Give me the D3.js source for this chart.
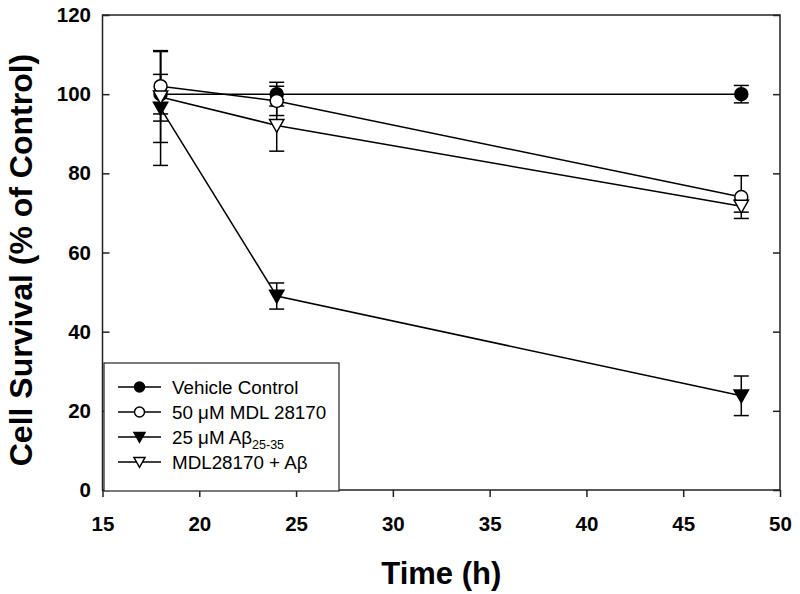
<!DOCTYPE html>
<html>
<head>
<meta charset="utf-8">
<script src="https://cdn.jsdelivr.net/npm/d3@7"></script>
<style>
    body { margin: 0; background: #fff; }
    svg { font-family: "Liberation Sans", Arial, sans-serif; }
</style>
</head>
<body>
<svg id="chart" width="800" height="594"></svg>
<script>
const times = [18, 24, 48];

const vehicleMean = [100, 100, 100];
const vehicleErr = [5, 3, 2.2];
const mdlMean = [102, 98.3, 74];
const mdlErr = [8.8, 3.7, 5.4];
const abMean = [96.5, 49, 23.8];
const abErr = [14.5, 3.3, 5];
const mixMean = [99.3, 92.1, 71.7];
const mixErr = [11.5, 6.5, 1.5];

const xTicks = [15, 20, 25, 30, 35, 40, 45, 50];
const yTicks = [0, 20, 40, 60, 80, 100, 120];

const seriesNames = ["Vehicle Control", "50 \u03bcM MDL 28170", "25 \u03bcM A\u03b2", "MDL28170 + A\u03b2"];

const series = [
    { name: seriesNames[0], mean: vehicleMean, err: vehicleErr, shape: "circle", fill: "#000" },
    { name: seriesNames[1], mean: mdlMean, err: mdlErr, shape: "circle", fill: "#fff" },
    { name: seriesNames[2], mean: abMean, err: abErr, shape: "tri", fill: "#000", sub: "25-35" },
    { name: seriesNames[3], mean: mixMean, err: mixErr, shape: "tri", fill: "#fff" }
];

const svg = d3.select("#chart");
const pLeft = 102.5, pRight = 780, pTop = 15, pBottom = 490;

const x = d3.scaleLinear().domain([15, 50]).range([pLeft, pRight]);
const y = d3.scaleLinear().domain([0, 120]).range([pBottom, pTop]);

// frame
svg.append("rect")
    .attr("x", pLeft).attr("y", pTop)
    .attr("width", pRight - pLeft).attr("height", pBottom - pTop)
    .attr("fill", "none").attr("stroke", "#222").attr("stroke-width", 1.5);

const xAxis = svg.append("g")
    .attr("transform", "translate(0," + pBottom + ")")
    .call(d3.axisBottom(x).tickValues(xTicks).tickSize(7).tickSizeOuter(0).tickPadding(19));
const yAxis = svg.append("g")
    .attr("transform", "translate(" + pLeft + ",0)")
    .call(d3.axisLeft(y).tickValues(yTicks).tickSize(-7).tickSizeOuter(0).tickPadding(11.5));
const yAxisR = svg.append("g")
    .attr("transform", "translate(" + pRight + ",0)")
    .call(d3.axisRight(y).tickValues(yTicks).tickSize(-7).tickSizeOuter(0).tickFormat(""));

[xAxis, yAxis, yAxisR].forEach(function(g) {
    g.attr("font-size", null).attr("font-family", null);
    g.select(".domain").remove();
    g.selectAll("line").attr("stroke", "#222").attr("stroke-width", 1.5);
    g.selectAll("text")
        .attr("fill", "#000")
        .style("font-size", "20.5px")
        .style("font-weight", "bold");
});

// axis titles
svg.append("text")
    .attr("x", (pLeft + pRight) / 2).attr("y", 584)
    .attr("text-anchor", "middle")
    .style("font-size", "31px").style("font-weight", "bold")
    .text("Time (h)");
svg.append("text")
    .attr("transform", "translate(32,260) rotate(-90)")
    .attr("text-anchor", "middle")
    .style("font-size", "32px").style("font-weight", "bold")
    .text("Cell Survival (% of Control)");

function marker(g, shape, fill, r) {
    if (shape == "circle") {
        g.append("circle").attr("r", r)
            .attr("fill", fill).attr("stroke", "#000").attr("stroke-width", 1.5);
    } else {
        let w = r * 1.1;
        let p = d3.path();
        p.moveTo(-w, -r * 0.9);
        p.lineTo(w, -r * 0.9);
        p.lineTo(0, r * 1.05);
        p.closePath();
        g.append("path").attr("d", p.toString())
            .attr("fill", fill).attr("stroke", "#000").attr("stroke-width", 1.5);
    }
}

const line = d3.line().x(d => x(d.t)).y(d => y(d.v));

series.forEach(function(s) {
    let pts = times.map((t, i) => ({ t: t, v: s.mean[i], e: s.err[i] }));
    svg.append("path")
        .attr("d", line(pts))
        .attr("fill", "none").attr("stroke", "#000").attr("stroke-width", 1.5);

    let eb = svg.append("g");
    pts.forEach(function(p) {
        let cx = x(p.t);
        eb.append("line")
            .attr("x1", cx).attr("x2", cx)
            .attr("y1", y(p.v - p.e)).attr("y2", y(p.v + p.e));
        [p.v - p.e, p.v + p.e].forEach(function(v) {
            eb.append("line")
                .attr("x1", cx - 7.5).attr("x2", cx + 7.5)
                .attr("y1", y(v)).attr("y2", y(v));
        });
    });
    eb.selectAll("line").attr("stroke", "#000").attr("stroke-width", 1.5);
});

series.forEach(function(s) {
    times.forEach(function(t, i) {
        let g = svg.append("g").attr("transform", "translate(" + x(t) + "," + y(s.mean[i]) + ")");
        marker(g, s.shape, s.fill, 6.5);
    });
});

// legend
const legend = svg.append("g");
legend.append("rect")
    .attr("x", 104).attr("y", 363)
    .attr("width", 235).attr("height", 128)
    .attr("fill", "#fff").attr("stroke", "#222").attr("stroke-width", 1.2);

series.forEach(function(s, i) {
    let cy = 387 + i * 25;
    legend.append("line")
        .attr("x1", 118).attr("x2", 161)
        .attr("y1", cy).attr("y2", cy)
        .attr("stroke", "#000").attr("stroke-width", 1.5);
    let g = legend.append("g").attr("transform", "translate(139.5," + cy + ")");
    marker(g, s.shape, s.fill, 5);
    let txt = legend.append("text")
        .attr("x", 172).attr("y", cy + 6.5)
        .style("font-size", "18.8px")
        .text(s.name);
    if (s.sub) {
        txt.append("tspan").attr("dy", 5).style("font-size", "12.5px").text(s.sub);
    }
});
</script>
</body>
</html>
